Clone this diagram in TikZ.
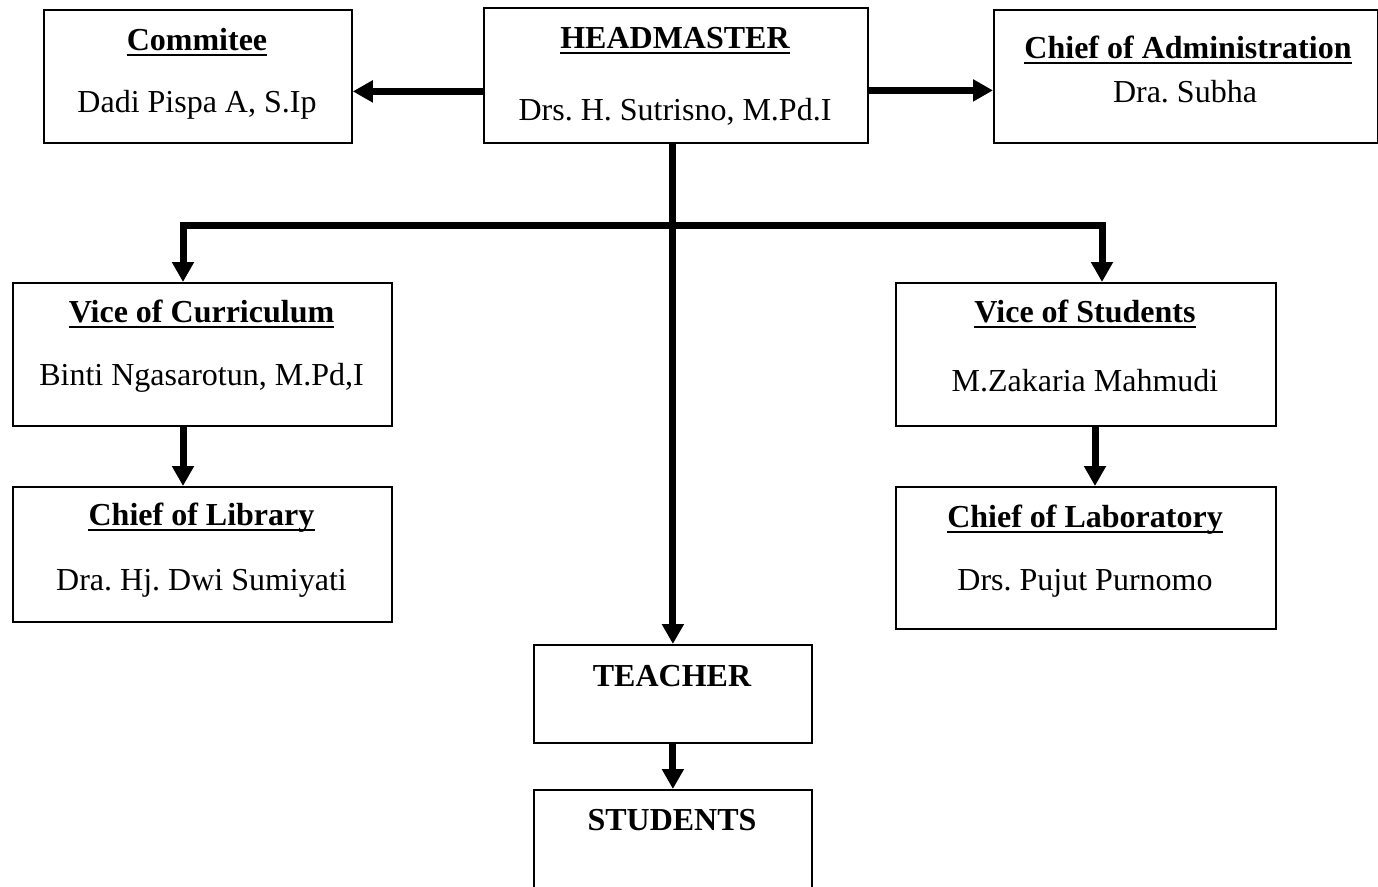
\documentclass[tikz,border=0pt]{standalone}
\usepackage{fontspec}
\setmainfont{Liberation Serif}
\usetikzlibrary{arrows.meta}
\frenchspacing
\tikzset{
  box/.style={draw, line width=1.8pt, anchor=north west, inner sep=0pt},
  ttl/.style={anchor=base, inner sep=0pt, font=\fontsize{32}{38}\selectfont\bfseries},
  nm/.style={anchor=base, inner sep=0pt, font=\fontsize{32}{38}\selectfont},
  arr/.style={line width=7pt, -{Triangle[length=20pt,width=21pt]}, line join=miter},
  uline/.style={line width=2.5pt},
}
\newcommand{\ulineunder}[1]{\draw[uline] ([yshift=-5pt]#1.base west) -- ([yshift=-5pt]#1.base east);}
\begin{document}
\begin{tikzpicture}[x=1pt,y=-1pt]
\useasboundingbox[fill=white] (0,0) rectangle (1378,886);
% boxes
\node[box, minimum width=308pt, minimum height=133pt] (com) at (43,9) {};
\node[box, minimum width=384pt, minimum height=135pt] (hm) at (483,7) {};
\node[box, minimum width=384pt, minimum height=133pt] (adm) at (993,9) {};
\node[box, minimum width=379pt, minimum height=143pt] (vcur) at (12,282) {};
\node[box, minimum width=380pt, minimum height=143pt] (vstu) at (895,282) {};
\node[box, minimum width=379pt, minimum height=135pt] (lib) at (12,486) {};
\node[box, minimum width=380pt, minimum height=142pt] (lab) at (895,486) {};
\node[box, minimum width=278pt, minimum height=98pt] (tea) at (533,644) {};
\node[box, minimum width=278pt, minimum height=100pt] (stu) at (533,789) {};
% texts
\node[ttl] (comT) at (197,50) {Commitee}; \ulineunder{comT}
\node[nm] (comN) at (197,112) {Dadi Pispa A, S.Ip};
\node[ttl] (hmT) at (675,48) {HEADMASTER}; \ulineunder{hmT}
\node[nm] (hmN) at (675,120) {Drs. H. Sutrisno, M.Pd.I};
\node[ttl] (admT) at (1188,58) {Chief of Administration}; \ulineunder{admT}
\node[nm] (admN) at (1185,102) {Dra. Subha};
\node[ttl] (vcurT) at (201.5,322) {Vice of Curriculum}; \ulineunder{vcurT}
\node[nm] (vcurN) at (201.5,385) {Binti Ngasarotun, M.Pd,I};
\node[ttl] (vstuT) at (1085,322) {Vice of Students}; \ulineunder{vstuT}
\node[nm] (vstuN) at (1085,391) {M.Zakaria Mahmudi};
\node[ttl] (libT) at (201.5,525) {Chief of Library}; \ulineunder{libT}
\node[nm] (libN) at (201.5,590) {Dra. Hj. Dwi Sumiyati};
\node[ttl] (labT) at (1085,527) {Chief of Laboratory}; \ulineunder{labT}
\node[nm] (labN) at (1085,590) {Drs. Pujut Purnomo};
\node[ttl] (teaT) at (672,686) {TEACHER};
\node[ttl] (stuT) at (672,830) {STUDENTS};
% connectors
\draw[arr] ([yshift=-16pt]hm.west) -- ([yshift=-16pt]hm.west -| com.east);
\draw[arr] ([yshift=-15pt]hm.east) -- ([yshift=-15pt]hm.east -| adm.west);
\draw[arr] (hm.south -| tea.north) -- (tea.north);
\coordinate (bl) at (183,225);
\coordinate (br) at (1102,225);
\draw[arr] (br) -- (bl) -- (bl |- vcur.north);
\draw[arr] (bl) -- (br) -- (br |- vstu.north);
\draw[arr] (bl |- vcur.south) -- (bl |- lib.north);
\coordinate (rv) at (1095,425);
\draw[arr] (rv) -- (rv |- lab.north);
\draw[arr] (tea.south) -- (stu.north);
\end{tikzpicture}
\end{document}
